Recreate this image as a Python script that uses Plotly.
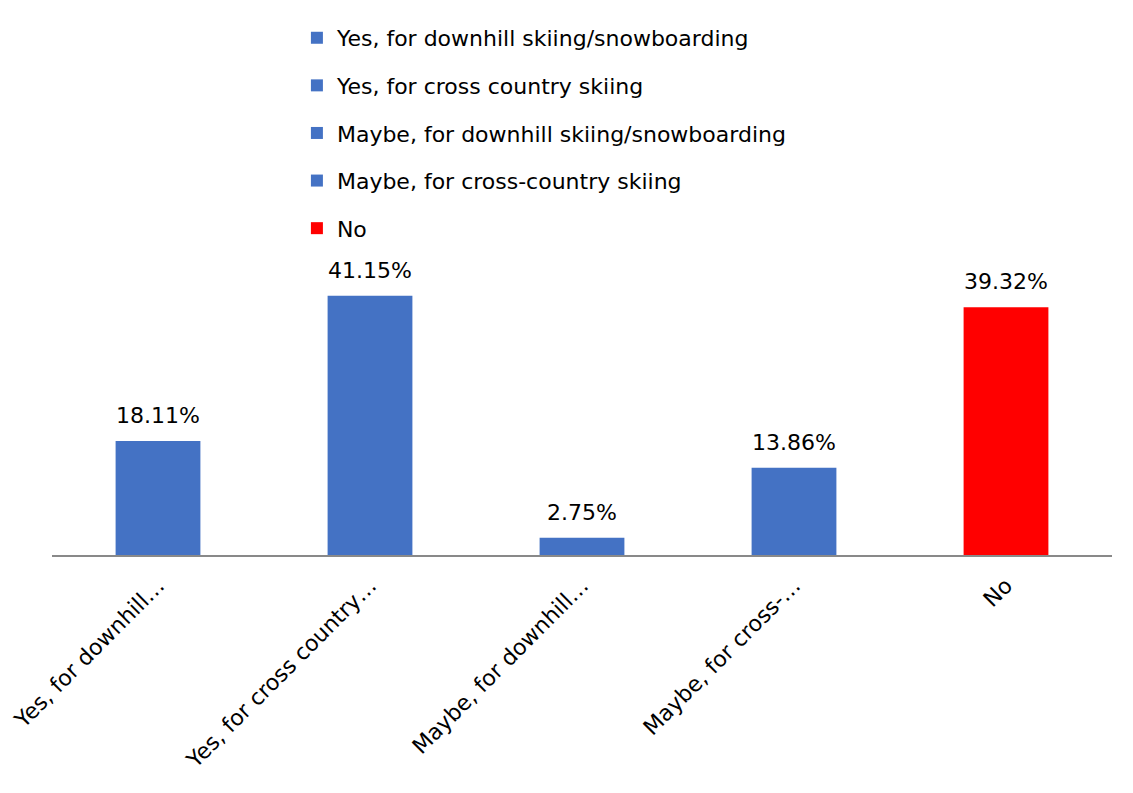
import plotly.graph_objects as go

# survey answers, full names shown in the legend
answers = [
    "Yes, for downhill skiing/snowboarding",
    "Yes, for cross country skiing",
    "Maybe, for downhill skiing/snowboarding",
    "Maybe, for cross-country skiing",
    "No",
]
# truncated axis labels as they appear under the bars
tick_labels = [
    "Yes, for downhill…",
    "Yes, for cross country…",
    "Maybe, for downhill…",
    "Maybe, for cross-…",
    "No",
]
shares = [18.11, 41.15, 2.75, 13.86, 39.32]
bar_colors = ["#4472C4", "#4472C4", "#4472C4", "#4472C4", "#FF0000"]

FONT = "DejaVu Sans"
FSIZE = 22

fig = go.Figure()

for i in range(len(answers)):
    fig.add_trace(go.Bar(
        x=[tick_labels[i]],
        y=[shares[i]],
        name=answers[i],
        legendgroup=str(i),
        marker=dict(color=bar_colors[i], line=dict(width=0)),
        width=0.4,
        hoverinfo="skip",
    ))

# percentage labels above the bars
for i in range(len(shares)):
    fig.add_annotation(
        x=tick_labels[i], y=shares[i],
        text=f"{shares[i]:.2f}%",
        showarrow=False,
        yanchor="bottom",
        yshift=11,
        font=dict(family=FONT, size=FSIZE, color="#000000"),
    )

# page body adds 8px offset, margins compensate for it
fig.update_layout(
    width=1133,
    height=793,
    margin=dict(l=44, r=29, t=232, b=246, autoexpand=False),
    paper_bgcolor="white",
    plot_bgcolor="white",
    barmode="overlay",
    showlegend=True,
    legend=dict(
        x=0.255, y=0.9887, xanchor="left", yanchor="top",
        xref="container", yref="container",
        orientation="v",
        traceorder="grouped",
        tracegroupgap=16,
        font=dict(family=FONT, size=FSIZE, color="#000000"),
        bgcolor="rgba(0,0,0,0)",
    ),
    font=dict(family=FONT, size=FSIZE, color="#000000"),
)

fig.update_xaxes(
    categoryorder="array",
    categoryarray=tick_labels,
    tickangle=-45,
    ticklabelstandoff=7,
    automargin=False,
    showline=True,
    linecolor="#898989",
    linewidth=2,
    ticks="",
    showgrid=False,
    tickfont=dict(family=FONT, size=FSIZE, color="#000000"),
)
fig.update_yaxes(
    range=[0, 50],
    visible=False,
    showgrid=False,
    zeroline=False,
    automargin=False,
)

fig.write_html("out.html")
